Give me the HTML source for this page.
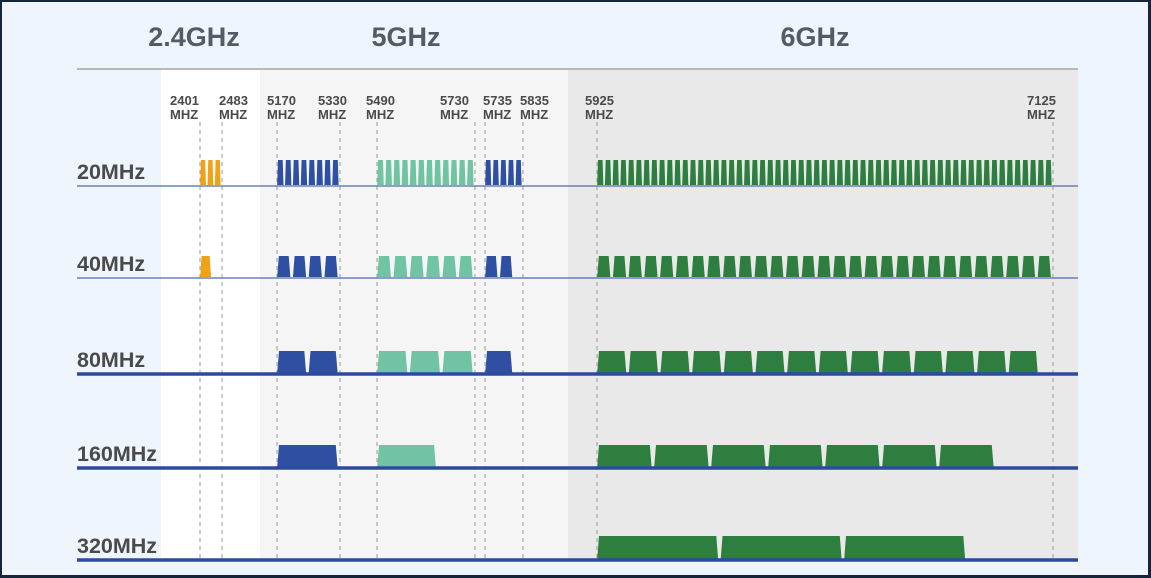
<!DOCTYPE html>
<html><head><meta charset="utf-8"><style>
html,body{margin:0;padding:0;}
body{width:1151px;height:578px;overflow:hidden;background:#14253d;}
#frame{position:absolute;left:2px;top:2px;width:1146px;height:573px;background:#eef5fc;}
svg{position:absolute;left:0;top:0;}
text{font-family:"Liberation Sans",sans-serif;font-weight:bold;}
</style></head><body>
<div id="frame"></div>
<svg id="chart" width="1151" height="578"></svg>
<script>
const bandNames = ["2.4GHz", "5GHz", "6GHz"];
const widthLabels = ["20MHz", "40MHz", "80MHz", "160MHz", "320MHz"];
const freqTicks = [2401, 2483, 5170, 5330, 5490, 5730, 5735, 5835, 5925, 7125];
// channel counts per width row for each sub-band
const ch24 = [3, 1, 0, 0, 0];
const chUnii1 = [8, 4, 2, 1, 0];
const chUnii2c = [12, 6, 3, 1, 0];
const chUnii3 = [5, 2, 1, 0, 0];
const ch6 = [59, 29, 14, 7, 3];

const NS = "http://www.w3.org/2000/svg";
const svg = document.getElementById("chart");
function mk(tag, attrs, parent) {
  const e = document.createElementNS(NS, tag);
  for (const k in attrs) e.setAttribute(k, attrs[k]);
  (parent || svg).appendChild(e);
  return e;
}
// piecewise frequency axis (segments)
const segs = [
  {f0: 2401, f1: 2483, x0: 200, x1: 222},
  {f0: 5170, f1: 5330, x0: 277, x1: 340},
  {f0: 5490, f1: 5730, x0: 377, x1: 475},
  {f0: 5735, f1: 5835, x0: 485, x1: 523},
  {f0: 5925, f1: 7125, x0: 597, x1: 1053}
];
function segOf(f) {
  for (const s of segs) if (f >= s.f0 - 1 && f <= s.f1 + 1) return s;
  return segs[segs.length - 1];
}
function xOf(f) {
  const s = segOf(f);
  return s.x0 + (f - s.f0) / (s.f1 - s.f0) * (s.x1 - s.x0);
}
const rowBase = [186, 278, 374, 468, 560];
const rowTop = [160, 256, 351, 445, 536];
const labelOffset = [-30, -3, -10, -22, -11, -35, -2, -3, -12, -26];

// backgrounds
let r = mk("rect", {x: 161, y: 69, width: 99, height: 491, fill: "#ffffff"});
 
r = mk("rect", {x: 260, y: 69, width: 308, height: 491, fill: "#f5f5f5"});
 
r = mk("rect", {x: 568, y: 69, width: 510, height: 491, fill: "#e9e9e9"});
 
r = mk("line", {x1: 77, x2: 1078, y1: 69, y2: 69, stroke: "#b8b8b8", "stroke-width": 2});
 

// band headers
const headerX = [194, 406, 815];
bandNames.forEach((b, i) => {
  const t = mk("text", {x: headerX[i], y: 46, "text-anchor": "middle", "font-size": 27, fill: "#555b66"});
  t.textContent = b;
  
  
});

// frequency ticks
freqTicks.forEach((f, i) => {
  const x = xOf(f);
  const l = mk("line", {x1: x, x2: x, y1: 122, y2: 560, stroke: "#999", "stroke-width": 1, "stroke-dasharray": "4,4"});
  
  
  const lx = x + labelOffset[i];
  const t1 = mk("text", {x: lx, y: 105, "font-size": 13, fill: "#4a4a4a"});
  t1.textContent = f;
  
  
  const t2 = mk("text", {x: lx, y: 119, "font-size": 13, fill: "#4a4a4a"});
  t2.textContent = "MHZ";
  
  
});

// channel bars
function drawBand(counts, f0, color, name, widthsMHz) {
  counts.forEach((n, row) => {
    if (!n) return;
    const w = widthsMHz[row];
    for (let k = 0; k < n; k++) {
      const a = xOf(f0 + k * w), b = xOf(f0 + (k + 1) * w);
      const gap = row === 0 ? 1.4 : 2.4;
      const L = a + 0.2, R = b - gap, t = rowTop[row], y = rowBase[row] - 1;
      const inset = Math.min(1.8, (R - L) / 8);
      const p = mk("polygon", {points: `${L},${y} ${L + inset},${t} ${R - inset},${t} ${R},${y}`, fill: color});
      
      
    }
  });
}
const std = [20, 40, 80, 160, 320];
drawBand(ch24, 2401, "#f0a114", "band24", [82 / 3, 50, 0, 0, 0]);
drawBand(chUnii1, 5170, "#2f4fa3", "unii1", std);
drawBand(chUnii2c, 5490, "#70c4a4", "unii2c", [20, 40, 80, 150, 0]);
drawBand(chUnii3, 5735, "#2f4fa3", "unii3", [20, 39, 78, 0, 0]);
drawBand(ch6, 5925, "#2e7f3f", "band6", [20.34, 41.4, 83.3, 150, 325]);

// row baselines and labels
widthLabels.forEach((lab, i) => {
  const thick = i >= 2;
  const l = mk("line", {x1: 77, x2: 1078, y1: rowBase[i], y2: rowBase[i], stroke: thick ? "#2c4b9e" : "#6a80b8", "stroke-width": thick ? 3.5 : 1.6});
  
  
  const t = mk("text", {x: 77, y: rowBase[i] - 7, "font-size": 21.5, fill: "#4a4a4a"});
  t.textContent = lab;
  
  
});
</script>
</body></html>
